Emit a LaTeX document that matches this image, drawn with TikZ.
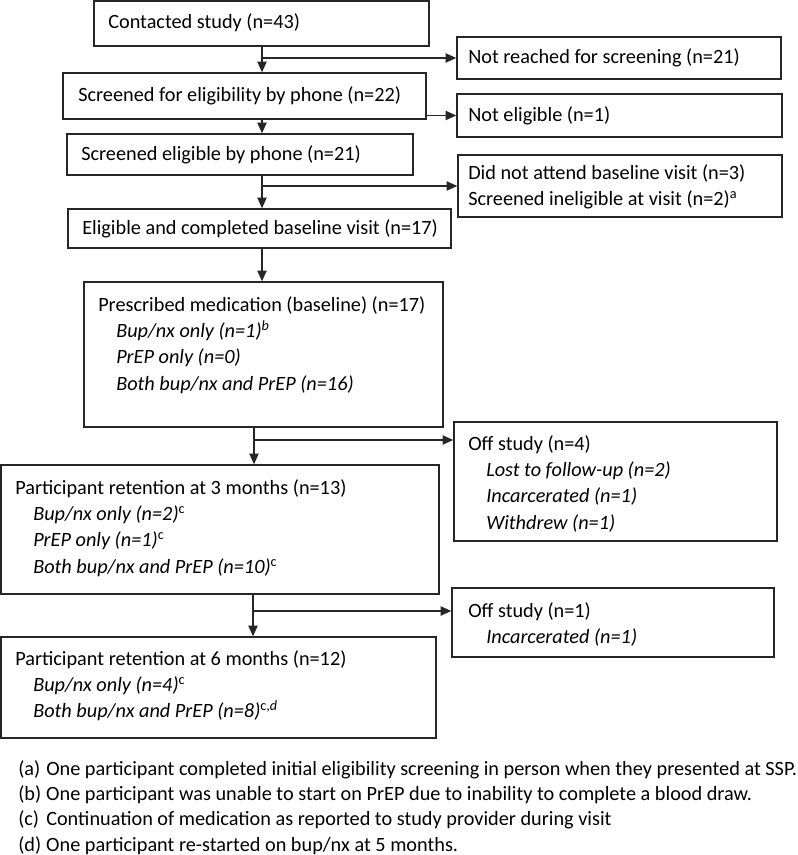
\documentclass[tikz,border=0pt]{standalone}
\usepackage{fontspec}
\setmainfont{Carlito}
\usetikzlibrary{positioning,fit,arrows.meta}

\begin{document}
\begin{tikzpicture}[x=0.75pt,y=-0.75pt]
        % Define styles for boxes, texts and arrows
        \tikzstyle{flowbox} = [draw=black!85, line width=1.1pt, inner sep=0pt]
        \tikzstyle{txt} = [inner sep=0pt, anchor=west, font=\fontsize{15.2}{19.8}\selectfont]
        \tikzstyle{lines} = [txt, anchor=north west, align=left]
        \tikzstyle{notes} = [lines, font=\fontsize{15.2}{19}\selectfont]
        \tikzstyle{arrow} = [draw=black!85, line width=0.9pt, -{Triangle[length=8pt,width=7pt]}]

        \useasboundingbox (0,0) rectangle (798,855);

        % Boxes
        \node[flowbox, fit={(94,1) (429,46)}] (contact) {};
        \node[flowbox, fit={(457,37) (781,79)}] (notreach) {};
        \node[flowbox, fit={(63,73) (426,119)}] (phone) {};
        \node[flowbox, fit={(457,94) (782,137)}] (noteligible) {};
        \node[flowbox, fit={(67,134) (413,175)}] (eligphone) {};
        \node[flowbox, fit={(458,155) (782,217)}] (noattend) {};
        \node[flowbox, fit={(68,209) (451,248)}] (baseline) {};
        \node[flowbox, fit={(84,282) (443,427)}] (presc) {};
        \node[flowbox, fit={(454,422) (777,541)}] (offfour) {};
        \node[flowbox, fit={(1,465) (439,594)}] (three) {};
        \node[flowbox, fit={(452,588) (774,657)}] (offone) {};
        \node[flowbox, fit={(1,637) (436,738)}] (six) {};

        % Texts
        \node[txt] (contact-t) at (108,23) {Contacted study (n=43)};
        \node[txt] (notreach-t) at (468,58) {Not reached for screening (n=21)};
        \node[txt] (phone-t) at (78,96) {Screened for eligibility by phone (n=22)};
        \node[txt] (noteligible-t) at (468,115.5) {Not eligible (n=1)};
        \node[txt] (eligphone-t) at (81,155) {Screened eligible by phone (n=21)};
        \node[lines, anchor=west] (noattend-t) at (468,187) {Did not attend baseline visit (n=3)\\
          Screened ineligible at visit (n=2)\textsuperscript{a}};
        \node[txt] (baseline-t) at (82,229) {Eligible and completed baseline visit (n=17)};
        \node[lines] (presc-t) at (98,296) {Prescribed medication (baseline) (n=17)\\
          \hspace*{13.5pt}\textit{Bup/nx only (n=1)}\textsuperscript{\textit{b}}\\
          \hspace*{13.5pt}\textit{PrEP only (n=0)}\\
          \hspace*{13.5pt}\textit{Both bup/nx and PrEP (n=16)}};
        \node[lines] (offfour-t) at (468,435) {Off study (n=4)\\
          \hspace*{13.5pt}\textit{Lost to follow-up (n=2)}\\
          \hspace*{13.5pt}\textit{Incarcerated (n=1)}\\
          \hspace*{13.5pt}\textit{Withdrew (n=1)}};
        \node[lines] (three-t) at (15,479) {Participant retention at 3 months (n=13)\\
          \hspace*{13.5pt}\textit{Bup/nx only (n=2)}\textsuperscript{c}\\
          \hspace*{13.5pt}\textit{PrEP only (n=1)}\textsuperscript{c}\\
          \hspace*{13.5pt}\textit{Both bup/nx and PrEP (n=10)}\textsuperscript{c}};
        \node[lines] (offone-t) at (468,602) {Off study (n=1)\\
          \hspace*{13.5pt}\textit{Incarcerated (n=1)}};
        \node[lines] (six-t) at (15,650) {Participant retention at 6 months (n=12)\\
          \hspace*{13.5pt}\textit{Bup/nx only (n=4)}\textsuperscript{c}\\
          \hspace*{13.5pt}\textit{Both bup/nx and PrEP (n=8)}\textsuperscript{c,\textit{d}}};

        % Footnotes
        \node[notes] (notes) at (18,760) {\makebox[21pt][l]{(a)}One participant completed initial eligibility screening in person when they presented at SSP.\\
          \makebox[21pt][l]{(b)}One participant was unable to start on PrEP due to inability to complete a blood draw.\\
          \makebox[21pt][l]{(c)}Continuation of medication as reported to study provider during visit\\
          \makebox[21pt][l]{(d)}One participant re-started on bup/nx at 5 months.};

        % Spine coordinates
        \coordinate (spineA) at (262,0);
        \coordinate (spineB) at (254,0);
        \coordinate (spineC) at (253,0);
        \coordinate (drop3) at (254,440);
        \coordinate (drop6) at (253,611);

        % Arrows down
        \draw[arrow] (contact.south -| spineA) -- (phone.north -| spineA);
        \draw[arrow] (phone.south -| spineA) -- (eligphone.north -| spineA);
        \draw[arrow] (eligphone.south -| spineA) -- (baseline.north -| spineA);
        \draw[arrow] (baseline.south -| spineA) -- (presc.north -| spineA);
        \draw[arrow] (presc.south -| spineB) -- (three.north -| spineB);
        \draw[arrow] (three.south -| spineC) -- (six.north -| spineC);

        % Arrows to the side
        \draw[arrow] (spineA |- notreach.west) -- (notreach.west);
        \draw[arrow] (phone.east |- noteligible.west) -- (noteligible.west);
        \draw[arrow] (spineA |- noattend.west) -- (noattend.west);
        \draw[arrow] (drop3) -- (drop3 -| offfour.west);
        \draw[arrow] (drop6) -- (drop6 -| offone.west);
\end{tikzpicture}
\end{document}
